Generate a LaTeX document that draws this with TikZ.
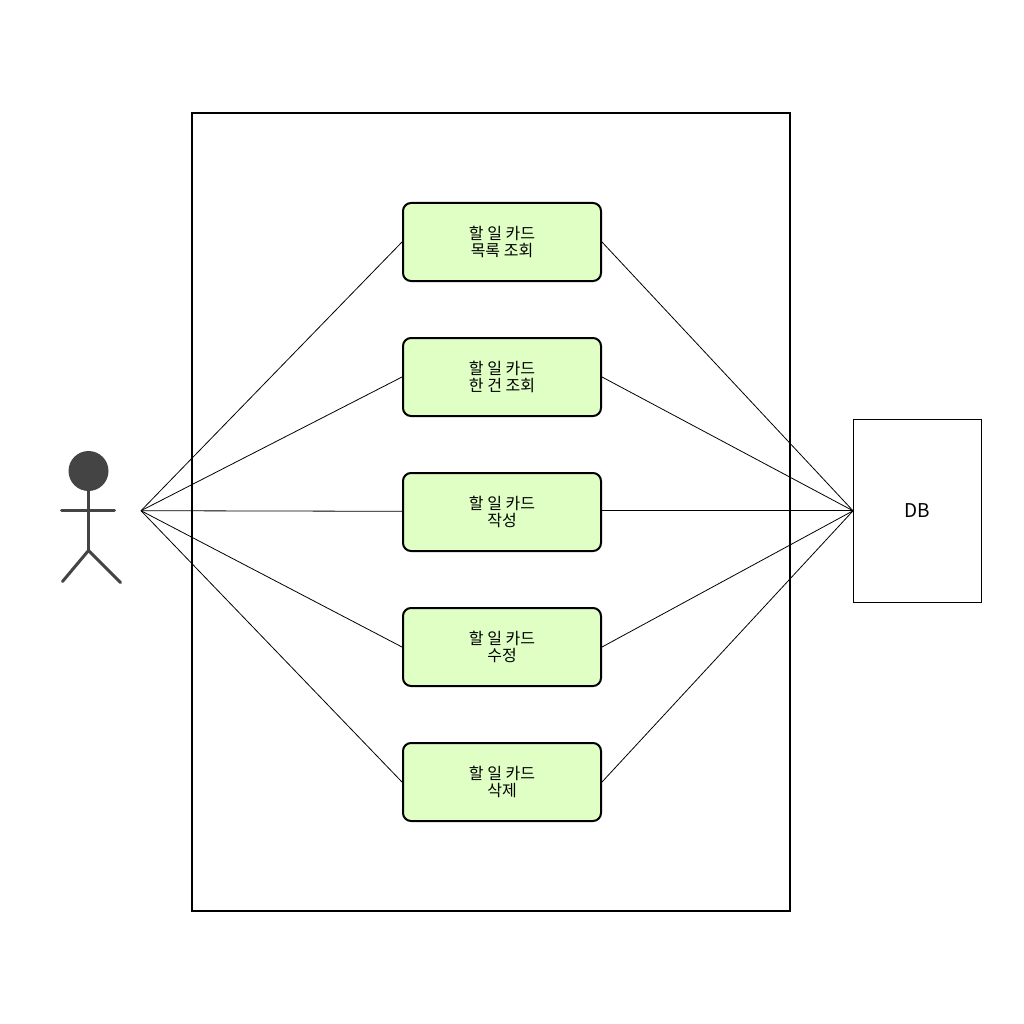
\documentclass[tikz,border=0pt]{standalone}
\usepackage{fontspec}
\setmainfont{Noto Sans CJK KR}
\usetikzlibrary{positioning}
\definecolor{cardgreen}{HTML}{DFFFC4}
\definecolor{actorgray}{HTML}{444444}
\tikzset{
    cardbox/.style={draw,
        fill=cardgreen,
        line width=2pt,
        rounded corners=8pt,
        minimum width=198pt,
        minimum height=78pt,
        inner sep=0pt,
        align=center,
        font=\fontsize{16}{17}\selectfont},
    wire/.style={line width=0.8pt},
    limb/.style={actorgray,line width=3pt,line cap=round}
}
\begin{document}
\begin{tikzpicture}[x=1pt,y=-1pt]
                \useasboundingbox (0,0) rectangle (1024,1024);
                \node[draw,
                    line width=2pt,
                    minimum width=598pt,
                    minimum height=798pt,
                    inner sep=0pt] (system) at (491,512){};
                \node[draw,
                    line width=0.9pt,
                    minimum width=128pt,
                    minimum height=183pt,
                    inner sep=0pt,
                    font=\fontsize{19}{20}\selectfont] (db) at (917.5,510.8){DB};
                \coordinate (actorport) at (141,510.7);
                % cards
                \node[cardbox] (list) at (502,242){할 일 카드\\목록 조회};
                \node[cardbox] (single) at (502,377){할 일 카드\\한 건 조회};
                \node[cardbox] (create) at (502,512){할 일 카드\\작성};
                \node[cardbox] (update) at (502,647){할 일 카드\\수정};
                \node[cardbox] (remove) at (502,782){할 일 카드\\삭제};
                % actor
                \node[circle,
                    fill=actorgray,
                    minimum size=40pt,
                    inner sep=0pt] (head) at (88.5,471){};
                \coordinate (hip) at (88.5,550.5);
                \coordinate (handl) at (61.5,510.5);
                \coordinate (handr) at (114.5,510.5);
                \coordinate (footl) at (62.5,581.5);
                \coordinate (footr) at (120.5,582.5);
                \draw[limb] (head) -- (hip);
                \draw[limb] (handl) -- (handr);
                \draw[limb] (footl) -- (hip) -- (footr);
                % left side
                \draw[wire] (actorport) -- (list.west);
                \draw[wire] (actorport) -- (single.west);
                \draw[wire] (actorport) -- ([yshift=0.7pt]create.west);
                \draw[wire] (actorport) -- (update.west);
                \draw[wire] (actorport) -- (remove.west);
                % right side
                \draw[wire] (list.east) -- (db.west);
                \draw[wire] (single.east) -- (db.west);
                \draw[wire] ([yshift=1.2pt]create.east) -- (db.west);
                \draw[wire] (update.east) -- (db.west);
                \draw[wire] (remove.east) -- (db.west);
            \end{tikzpicture}
\end{document}
